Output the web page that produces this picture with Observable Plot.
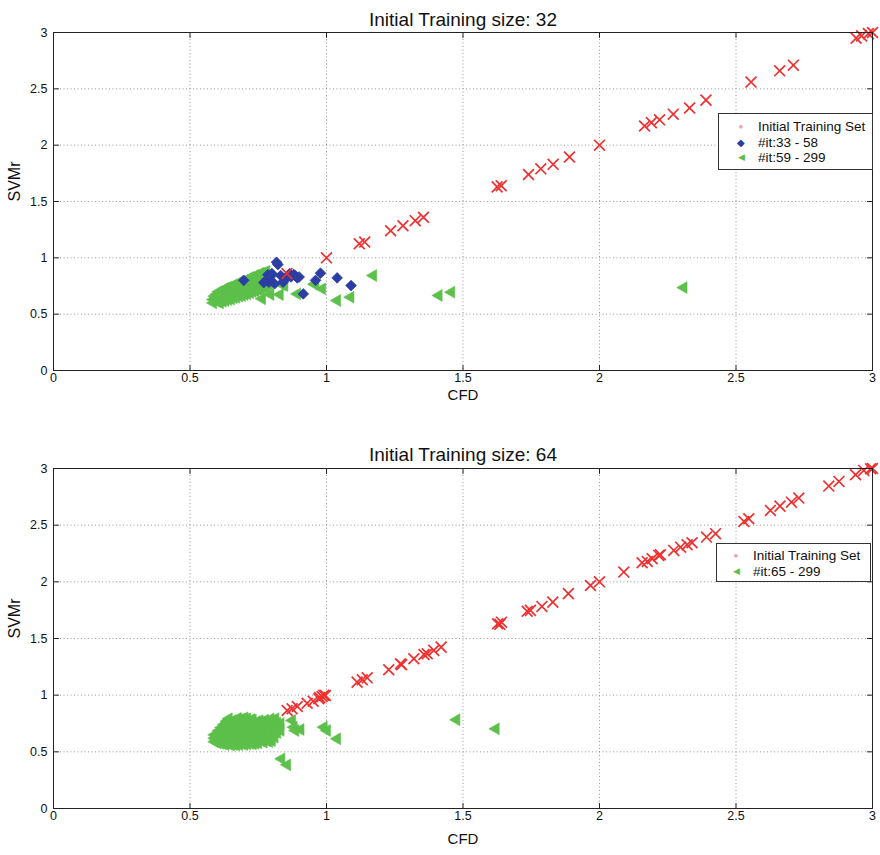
<!DOCTYPE html>
<html>
<head>
<meta charset="utf-8">
<script src="https://cdn.jsdelivr.net/npm/d3@7"></script>
<script src="https://cdn.jsdelivr.net/npm/@observablehq/plot@0.6"></script>
<style>
  html, body { margin: 0; padding: 0; background: #fff; }
  #wrap { position: relative; width: 880px; height: 855px; font-family: "Liberation Sans", Arial, sans-serif; }
  #p1 { position: absolute; left: 0; top: 0; }
  #p2 { position: absolute; left: 0; top: 427px; }
  .legend { position: absolute; background: #fff; border: 1px solid #333; font-size: 13.5px; color: #111; }
  .legend .row { position: absolute; left: 0; height: 15px; line-height: 15px; white-space: nowrap; }
  .legend .sym { position: absolute; width: 14px; text-align: center; }
  .legend .lab { position: absolute; }
</style>
</head>
<body>
<div id="wrap">
  <div id="p1"></div>
  <div id="p2"></div>
  <div class="legend" style="left:718px; top:113px; width:153px; height:55px;">
    <div class="row" style="top:5px;"><span class="sym" style="left:15px;color:#f4a0a0;font-size:8px;">●</span><span class="lab" style="left:39px;">Initial Training Set</span></div>
    <div class="row" style="top:21px;"><span class="sym" style="left:15px;color:#2c3ea3;font-size:10px;">◆</span><span class="lab" style="left:39px;">#it:33 - 58</span></div>
    <div class="row" style="top:36px;"><span class="sym" style="left:15px;color:#5cc04a;font-size:9px;">◀</span><span class="lab" style="left:39px;">#it:59 - 299</span></div>
  </div>
  <div class="legend" style="left:716px; top:543px; width:153px; height:37px;">
    <div class="row" style="top:4px;"><span class="sym" style="left:12px;color:#f4a0a0;font-size:8px;">●</span><span class="lab" style="left:36px;">Initial Training Set</span></div>
    <div class="row" style="top:20px;"><span class="sym" style="left:12px;color:#5cc04a;font-size:9px;">◀</span><span class="lab" style="left:36px;">#it:65 - 299</span></div>
  </div>
</div>
<script>
// ---------- Data ----------
const ticks = [0, 0.5, 1, 1.5, 2, 2.5, 3];
const titles = ["Initial Training size: 32", "Initial Training size: 64"];
const xLabel = "CFD";
const yLabel = "SVMr";

// Top chart: initial training set (32)
const topInitial = [
  [3.0,3.0],[2.985,2.99],[2.96,2.97],[2.94,2.95],
  [2.71,2.71],[2.66,2.66],[2.555,2.56],
  [2.39,2.40],[2.33,2.33],[2.27,2.275],
  [2.22,2.225],[2.19,2.20],[2.165,2.17],
  [2.0,2.0],
  [1.89,1.895],[1.83,1.83],[1.785,1.79],[1.74,1.74],
  [1.64,1.64],[1.625,1.63],
  [1.355,1.36],[1.325,1.33],[1.28,1.285],[1.235,1.24],
  [1.14,1.14],[1.12,1.125],
  [1.0,1.0],[0.855,0.86]
];
// Top chart: iterations 33-58
const topIt33 = [
  [0.817,0.961],[0.822,0.94],[0.795,0.834],[0.789,0.784],[0.832,0.843],
  [0.841,0.784],[0.853,0.828],[0.88,0.852],[0.893,0.822],[0.886,0.84],
  [0.978,0.864],[0.96,0.80],[1.039,0.822],[1.09,0.754],[0.915,0.68],
  [0.697,0.80],[0.79,0.81],[0.80,0.86],[0.87,0.83],[0.845,0.80],
  [0.78,0.80],[0.81,0.77],[0.77,0.78],[0.785,0.85],[0.865,0.86],[0.90,0.83]
];
// Top chart: iterations 59-299
const topIt59 = [
  [0.585,0.60],[0.585,0.63],[0.59,0.66],
  [0.60,0.61],[0.60,0.645],[0.60,0.68],[0.605,0.70],
  [0.61,0.60],[0.61,0.63],[0.61,0.665],[0.615,0.695],
  [0.62,0.615],[0.62,0.65],[0.62,0.685],[0.625,0.72],
  [0.63,0.62],[0.63,0.655],[0.635,0.69],[0.63,0.73],
  [0.64,0.63],[0.64,0.665],[0.645,0.70],[0.64,0.74],
  [0.65,0.635],[0.655,0.67],[0.65,0.71],[0.655,0.75],
  [0.66,0.645],[0.66,0.68],[0.665,0.72],[0.66,0.76],
  [0.67,0.65],[0.675,0.69],[0.67,0.73],[0.675,0.77],
  [0.68,0.66],[0.68,0.70],[0.685,0.74],[0.68,0.785],
  [0.69,0.665],[0.695,0.705],[0.69,0.75],[0.695,0.79],
  [0.70,0.675],[0.70,0.715],[0.705,0.76],[0.70,0.80],
  [0.71,0.68],[0.715,0.725],[0.71,0.77],[0.715,0.815],
  [0.72,0.69],[0.72,0.735],[0.725,0.78],[0.72,0.825],
  [0.73,0.70],[0.735,0.745],[0.73,0.79],[0.735,0.835],
  [0.74,0.705],[0.74,0.75],[0.745,0.80],[0.74,0.845],
  [0.75,0.715],[0.755,0.76],[0.75,0.81],[0.755,0.855],
  [0.76,0.72],[0.76,0.77],[0.765,0.82],[0.76,0.865],
  [0.77,0.735],[0.775,0.78],[0.77,0.83],[0.775,0.875],
  [0.78,0.74],[0.78,0.79],[0.785,0.84],[0.78,0.88],
  [0.79,0.76],[0.79,0.80],
  [0.764,0.636],[0.795,0.674],[0.829,0.674],[0.846,0.754],[0.838,0.76],
  [0.893,0.68],[0.96,0.77],[0.984,0.725],[0.955,0.765],
  [1.039,0.621],[1.088,0.651],[1.171,0.843],
  [1.411,0.666],[1.457,0.695],[2.308,0.736]
];

// Bottom chart: initial training set (64)
const botInitial = [
  [3.0,3.0],[2.993,2.998],[2.968,2.983],[2.938,2.945],[2.877,2.886],[2.84,2.845],
  [2.73,2.739],[2.703,2.703],[2.661,2.668],[2.626,2.63],[2.547,2.557],[2.529,2.533],
  [2.425,2.425],[2.392,2.395],[2.339,2.345],[2.321,2.327],[2.297,2.306],[2.272,2.277],
  [2.223,2.239],[2.217,2.233],[2.193,2.204],[2.175,2.18],[2.156,2.168],
  [2.089,2.086],[2.0,2.0],[1.967,1.968],
  [1.886,1.896],[1.829,1.821],[1.789,1.783],[1.747,1.748],[1.735,1.74],
  [1.641,1.644],[1.627,1.63],[1.635,1.625],
  [1.42,1.424],[1.393,1.395],[1.369,1.365],[1.357,1.359],[1.32,1.321],
  [1.271,1.277],[1.275,1.268],[1.228,1.224],
  [1.149,1.153],[1.131,1.136],[1.112,1.115],
  [0.996,0.997],[0.99,1.0],[0.984,0.988],[0.975,0.98],[0.972,0.968],
  [0.951,0.947],[0.929,0.929],[0.893,0.90],[0.874,0.88],[0.856,0.865]
];
// Bottom chart: iterations 65-299
const botIt65 = [
  [0.59,0.59],[0.59,0.62],[0.59,0.65],
  [0.60,0.58],[0.60,0.615],[0.60,0.65],[0.605,0.685],
  [0.61,0.575],[0.61,0.61],[0.61,0.645],[0.615,0.68],[0.615,0.715],
  [0.62,0.57],[0.62,0.605],[0.62,0.64],[0.62,0.675],[0.625,0.71],[0.625,0.74],
  [0.63,0.565],[0.63,0.60],[0.63,0.635],[0.63,0.67],[0.635,0.705],[0.63,0.745],[0.635,0.77],
  [0.64,0.57],[0.64,0.605],[0.64,0.64],[0.64,0.68],[0.645,0.715],[0.64,0.75],[0.642,0.792],
  [0.65,0.56],[0.65,0.595],[0.655,0.63],[0.65,0.67],[0.655,0.705],[0.65,0.74],[0.655,0.775],
  [0.66,0.565],[0.66,0.60],[0.665,0.64],[0.66,0.675],[0.665,0.71],[0.66,0.745],[0.665,0.78],
  [0.67,0.56],[0.675,0.595],[0.67,0.63],[0.675,0.665],[0.67,0.70],[0.675,0.74],[0.67,0.775],[0.675,0.795],
  [0.68,0.565],[0.685,0.60],[0.68,0.64],[0.685,0.675],[0.68,0.71],[0.685,0.75],[0.68,0.785],
  [0.69,0.57],[0.695,0.605],[0.69,0.645],[0.695,0.68],[0.69,0.72],[0.695,0.76],[0.69,0.79],
  [0.70,0.565],[0.70,0.60],[0.705,0.635],[0.70,0.67],[0.705,0.71],[0.70,0.745],[0.705,0.785],[0.70,0.80],
  [0.71,0.57],[0.715,0.61],[0.71,0.645],[0.715,0.685],[0.71,0.72],[0.715,0.755],[0.71,0.79],
  [0.72,0.575],[0.72,0.61],[0.725,0.65],[0.72,0.69],[0.725,0.725],[0.72,0.76],[0.725,0.785],
  [0.73,0.57],[0.735,0.605],[0.73,0.64],[0.735,0.68],[0.73,0.715],[0.735,0.75],[0.73,0.78],
  [0.74,0.575],[0.745,0.615],[0.74,0.655],[0.745,0.69],[0.74,0.73],[0.745,0.765],
  [0.75,0.58],[0.755,0.62],[0.75,0.66],[0.755,0.70],[0.75,0.74],[0.755,0.775],
  [0.76,0.60],[0.765,0.64],[0.76,0.68],[0.765,0.715],[0.76,0.76],
  [0.77,0.585],[0.775,0.625],[0.77,0.665],[0.775,0.70],[0.77,0.745],[0.775,0.78],
  [0.78,0.60],[0.785,0.64],[0.78,0.68],[0.785,0.72],[0.78,0.755],
  [0.79,0.59],[0.795,0.63],[0.79,0.67],[0.795,0.71],[0.79,0.75],[0.795,0.79],
  [0.80,0.60],[0.805,0.645],[0.80,0.69],[0.805,0.735],[0.80,0.775],
  [0.81,0.63],[0.815,0.675],[0.81,0.72],[0.813,0.792],
  [0.82,0.67],[0.825,0.71],[0.82,0.755],
  [0.832,0.69],[0.832,0.748],
  [0.874,0.777],[0.88,0.718],[0.886,0.688],[0.905,0.697],
  [0.99,0.718],[1.002,0.688],[1.039,0.615],
  [0.835,0.438],[0.856,0.385],
  [1.476,0.783],[1.62,0.703]
];

// ---------- Drawing ----------
const toObj = a => a.map(([x, y]) => ({x, y}));
const FONT = "'Liberation Sans', Arial, sans-serif";
const RED = "#f03030", BLUE = "#2c3ea3", GREEN = "#5cc04a";
const fmt = d3.format("~g");
const tickShape = {draw(context, l) { context.moveTo(0, 0); context.lineTo(0, -l); }};

function frameMarks(title, dyTitle, dyXLabel) {
  const tk = {length: 5, anchor: "start", shape: tickShape, stroke: "#222", strokeWidth: 1};
  return [
    Plot.gridX(ticks, {stroke: "#777", strokeOpacity: 0.75, strokeDasharray: "1,2.5"}),
    Plot.gridY(ticks, {stroke: "#777", strokeOpacity: 0.75, strokeDasharray: "1,2.5"}),
    Plot.axisX(ticks, {anchor: "bottom", tickSize: 0, tickPadding: 3, label: null, fontSize: 12.5, tickFormat: fmt}),
    Plot.axisY(ticks, {anchor: "left", tickSize: 0, tickPadding: 6, label: null, fontSize: 12.5, tickFormat: fmt}),
    Plot.vector(ticks, {x: d => d, frameAnchor: "bottom", rotate: 0, ...tk}),
    Plot.vector(ticks, {x: d => d, frameAnchor: "top", rotate: 180, ...tk}),
    Plot.vector(ticks, {y: d => d, frameAnchor: "left", rotate: 90, ...tk}),
    Plot.vector(ticks, {y: d => d, frameAnchor: "right", rotate: 270, ...tk}),
    Plot.text([title], {frameAnchor: "top", dy: dyTitle, fontSize: 19, fill: "#111"}),
    Plot.text([xLabel], {frameAnchor: "bottom", dy: dyXLabel, fontSize: 15, fill: "#111"}),
    Plot.text([yLabel], {frameAnchor: "left", dx: -39, rotate: -90, fontSize: 16, fill: "#111"})
  ];
}

function chart(opts, marks) {
  return Plot.plot({
    width: 880,
    height: opts.height,
    marginTop: opts.mt,
    marginBottom: opts.mb,
    marginLeft: 53,
    marginRight: 8,
    x: {domain: [0, 3]},
    y: {domain: [0, 3]},
    style: {fontFamily: FONT, fontSize: "12.5px", color: "#111", background: "#fff", overflow: "visible"},
    marks
  });
}

const dotG = data => Plot.dot(toObj(data), {x: "x", y: "y", symbol: "triangle", rotate: -90, r: 4.4, fill: GREEN, stroke: GREEN, strokeWidth: 0.6});
const dotB = data => Plot.dot(toObj(data), {x: "x", y: "y", symbol: "diamond2", r: 4.8, fill: BLUE, stroke: BLUE, strokeWidth: 0.8});
const dotR = data => Plot.dot(toObj(data), {x: "x", y: "y", symbol: "times", r: 5, stroke: RED, strokeWidth: 1.7});

const c1 = chart({height: 427, mt: 32, mb: 57}, [
  ...frameMarks(titles[0], -20, 29),
  dotG(topIt59),
  dotB(topIt33),
  dotR(topInitial),
  Plot.frame({stroke: "#222"})
]);
const c2 = chart({height: 428, mt: 41, mb: 47}, [
  ...frameMarks(titles[1], -21, 35),
  dotG(botIt65),
  dotR(botInitial),
  Plot.frame({stroke: "#222"})
]);
document.getElementById("p1").appendChild(c1);
document.getElementById("p2").appendChild(c2);
</script>
</body>
</html>
